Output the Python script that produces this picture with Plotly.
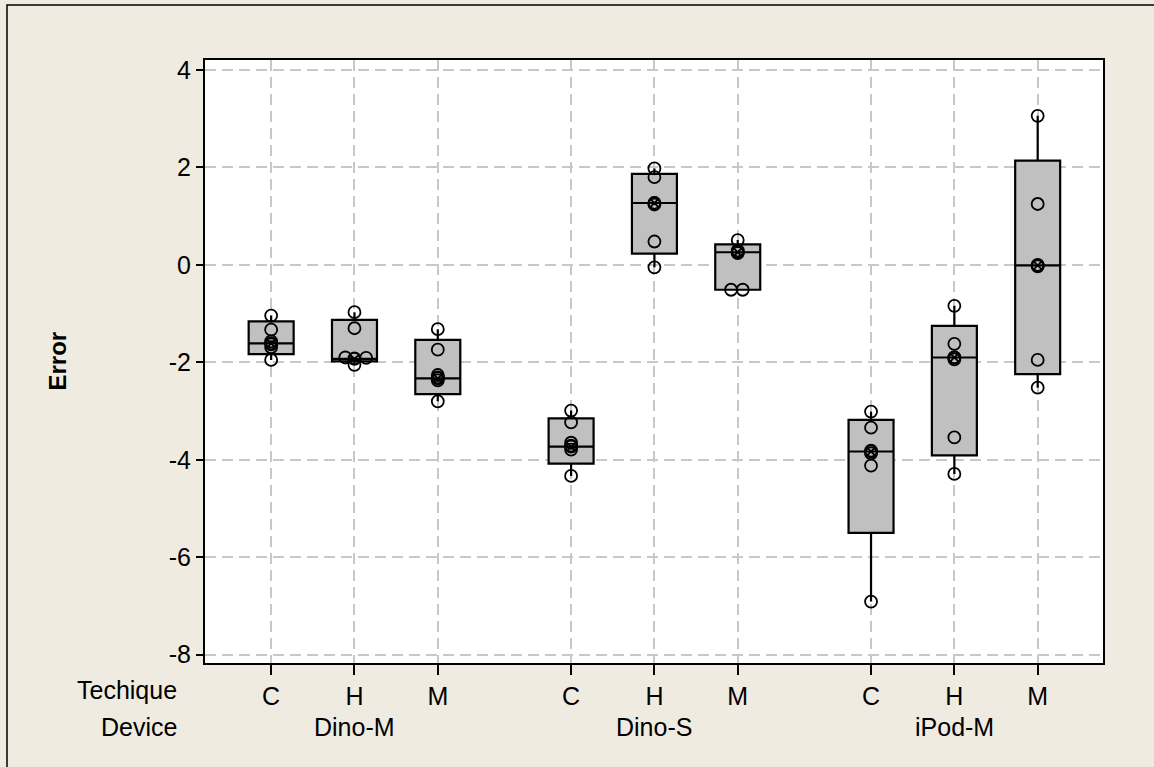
import plotly.graph_objects as go

# ---------------- data ----------------
devices = ["Dino-M", "Dino-S", "iPod-M"]
techniques = ["C", "H", "M"]
y_ticks = [-8, -6, -4, -2, 0, 2, 4]
y_tick_labels = ["-8", "-6", "-4", "-2", "0", "2", "4"]

# box statistics, cell order: Dino-M C,H,M / Dino-S C,H,M / iPod-M C,H,M
q1 = [-1.83, -1.98, -2.65, -4.08, 0.23, -0.51, -5.50, -3.91, -2.24]
median = [-1.61, -1.93, -2.33, -3.73, 1.27, 0.26, -3.83, -1.90, -0.01]
q3 = [-1.16, -1.13, -1.54, -3.15, 1.87, 0.42, -3.18, -1.25, 2.14]
lower_whisker = [-1.95, -2.05, -2.80, -4.33, -0.05, -0.51, -6.91, -4.29, -2.52]
upper_whisker = [-1.04, -0.97, -1.32, -2.99, 1.98, 0.51, -3.01, -0.84, 3.06]

# individual observations per cell
obs = [
    [-1.04, -1.33, -1.57, -1.63, -1.69, -1.95],
    [-0.97, -1.30, -1.90, -1.92, -1.91, -2.05],
    [-1.32, -1.74, -2.26, -2.31, -2.37, -2.80],
    [-2.99, -3.23, -3.65, -3.71, -3.79, -4.33],
    [1.98, 1.80, 1.27, 1.24, 0.48, -0.05],
    [0.51, 0.30, 0.27, 0.24, -0.51, -0.51],
    [-3.01, -3.34, -3.81, -3.87, -4.12, -6.91],
    [-0.84, -1.62, -1.90, -1.94, -3.54, -4.29],
    [3.06, 1.25, 0.00, -0.03, -1.95, -2.52],
]

# ---------------- layout helpers (positions / jitter, not data) ----------------
group_step = 3.6
cell_pos = [d * group_step + t for d in range(len(devices)) for t in range(len(techniques))]
tick_text = [t for _ in devices for t in techniques]
jitter = [
    [0, 0, 0, 0, 0, 0],
    [0, 0, -0.11, 0, 0.14, 0],
    [0, 0, 0, 0, 0, 0],
    [0, 0, 0, 0, 0, 0],
    [0, 0, 0, 0, 0, 0],
    [0, 0, 0, 0, -0.08, 0.06],
    [0, 0, 0, 0, 0, 0],
    [0, 0, 0, 0, 0, 0],
    [0, 0, 0, 0, 0, 0],
]

FONT = "Liberation Sans, Arial, sans-serif"
FS = 25

fig = go.Figure()

fig.add_trace(go.Box(
    x=cell_pos, q1=q1, median=median, q3=q3,
    lowerfence=lower_whisker, upperfence=upper_whisker,
    width=0.54, whiskerwidth=0,
    fillcolor="#C0C0C0", line=dict(color="black", width=2.2),
    boxpoints=False, showlegend=False, hoverinfo="skip",
))

px, py = [], []
for i, vals in enumerate(obs):
    for j, v in enumerate(vals):
        px.append(cell_pos[i] + jitter[i][j])
        py.append(v)

fig.add_trace(go.Scatter(
    x=px, y=py, mode="markers", showlegend=False, hoverinfo="skip",
    marker=dict(symbol="circle-open", size=12, color="black", line=dict(width=1.8, color="black")),
))

fig.add_trace(go.Scatter(
    x=cell_pos, y=median, mode="markers", showlegend=False, hoverinfo="skip",
    marker=dict(symbol="circle-x-open", size=12, color="black", line=dict(width=1.8, color="black")),
))

L, R, T, B = 205, 51, 60, 104
W, H = 1154, 767
pw, ph = W - L - R, H - T - B

def pxx(x):
    return (x - L) / pw

def pyy(y):
    return (H - B - y) / ph

annotations = []
for d, name in enumerate(devices):
    annotations.append(dict(
        x=d * group_step + 1, y=pyy(727), xref="x", yref="paper",
        text=name, showarrow=False, xanchor="center", yanchor="middle",
        font=dict(family=FONT, size=FS, color="black"),
    ))
annotations.append(dict(
    x=pxx(179), y=pyy(690), xref="paper", yref="paper", text="Techique",
    showarrow=False, xanchor="right", yanchor="middle",
    font=dict(family=FONT, size=FS, color="black"),
))
annotations.append(dict(
    x=pxx(179), y=pyy(727), xref="paper", yref="paper", text="Device",
    showarrow=False, xanchor="right", yanchor="middle",
    font=dict(family=FONT, size=FS, color="black"),
))
annotations.append(dict(
    x=pxx(57), y=0.5, xref="paper", yref="paper", text="<b>Error</b>",
    showarrow=False, xanchor="center", yanchor="middle", textangle=-90,
    font=dict(family=FONT, size=FS - 1, color="black"),
))

fig.update_layout(
    width=W, height=H, autosize=False,
    margin=dict(l=L, r=R, t=T, b=B, pad=0),
    paper_bgcolor="#EFEBE1", plot_bgcolor="white",
    font=dict(family=FONT, size=FS, color="black"),
    annotations=annotations,
    shapes=[dict(
        type="rect", xref="paper", yref="paper",
        x0=pxx(7), y0=-0.5, x1=1.5, y1=pyy(5),
        line=dict(color="black", width=1.5), fillcolor="rgba(0,0,0,0)", layer="below",
    )],
)

fig.update_xaxes(
    range=[-0.794, 9.984], tickmode="array", tickvals=cell_pos, ticktext=tick_text,
    showgrid=True, gridcolor="#C8C8C8", gridwidth=2, griddash="11px,6px",
    zeroline=False, showline=True, linecolor="black", linewidth=2, mirror=True,
    ticks="outside", ticklen=10, tickwidth=2, tickcolor="black",
    tickfont=dict(family=FONT, size=FS, color="black"),
)
fig.update_yaxes(
    range=[-8.17, 4.205], tickmode="array", tickvals=y_ticks, ticktext=y_tick_labels,
    showgrid=True, gridcolor="#C8C8C8", gridwidth=2, griddash="11px,6px",
    zeroline=False, showline=True, linecolor="black", linewidth=2, mirror=True,
    ticks="outside", ticklen=7, tickwidth=2, tickcolor="black",
    tickfont=dict(family=FONT, size=FS, color="black"),
)

fig.write_html("out.html")
